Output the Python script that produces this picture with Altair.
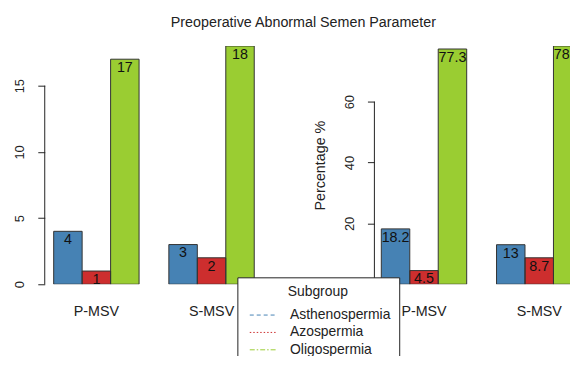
import altair as alt
import pandas as pd

groups = ["P-MSV", "S-MSV"]
subgroups = ["Asthenospermia", "Azospermia", "Oligospermia"]
colors = ["#4682B4", "#CD2E2E", "#9ACD32"]
count_p = [4, 1, 17]
count_s = [3, 2, 18]
pct_p = [18.2, 4.5, 77.3]
pct_s = [13, 8.7, 78.3]
title = "Preoperative Abnormal Semen Parameter"
y_title_right = "Percentage %"
ticks_left = [0, 5, 10, 15]
ticks_right = [0, 20, 40, 60]

FONT = "Liberation Sans"

dash_expr = ("datum.value == 'Asthenospermia' ? [4, 3] : "
             "datum.value == 'Azospermia' ? [1.5, 2] : [5, 2, 1.5, 2]")
stroke_expr = ("datum.value == 'Asthenospermia' ? '#4682B4' : "
               "datum.value == 'Azospermia' ? '#CD2E2E' : '#9ACD32'")


def make_df(vals_p, vals_s):
    rows = []
    for g, vals in zip(groups, [vals_p, vals_s]):
        for s, v in zip(subgroups, vals):
            rows.append({"group": g, "subgroup": s, "value": v,
                         "label": f"{v:g}"})
    return pd.DataFrame(rows)


df_count = make_df(count_p, count_s)
df_pct = make_df(pct_p, pct_s)


def panel(df, ymax, ticks, ytitle, pad_outer, legend=False):
    x = alt.X("group:N", sort=groups,
              scale=alt.Scale(paddingInner=0.2586, paddingOuter=pad_outer),
              axis=alt.Axis(title=None, labelAngle=0, domain=False, ticks=False,
                            labelPadding=20, labelFontSize=14.4, labelColor="#222"))
    xo = alt.XOffset("subgroup:N", sort=subgroups,
                     scale=alt.Scale(paddingInner=0, paddingOuter=0))
    yaxis = alt.Axis(values=ticks, domain=False, grid=False, tickSize=7,
                     tickColor="#222", labelAngle=270, labelAlign="center",
                     labelBaseline="bottom", labelPadding=11, labelFontSize=13,
                     labelColor="#222", title=ytitle if ytitle else None,
                     titleFontSize=14.4, titleFontWeight="normal",
                     titleColor="#222", titlePadding=16)
    y = alt.Y("value:Q", scale=alt.Scale(domain=[0, ymax], nice=False, zero=True),
              axis=yaxis)
    if legend:
        leg = alt.Legend(title="Subgroup", orient="none", legendX=-138, legendY=233,
                         symbolType="stroke", symbolSize=784, symbolStrokeWidth=1,
                         symbolOffset=4,
                         symbolDash=alt.ExprRef(dash_expr),
                         symbolStrokeColor=alt.ExprRef(stroke_expr))
    else:
        leg = None
    color = alt.Color("subgroup:N", sort=subgroups,
                      scale=alt.Scale(domain=subgroups, range=colors), legend=leg)
    base = alt.Chart(df).encode(x=x, xOffset=xo)
    bars = base.mark_bar(clip=True).encode(y=y, color=color)
    outline = base.mark_bar(clip=True, fill="transparent", stroke="#333",
                            strokeWidth=1).encode(y=alt.Y("value:Q"))
    text = base.mark_text(baseline="top", dy=2, fontSize=14.4, color="#111",
                          font=FONT, clip=True).encode(
        y=alt.Y("value:Q"), text="label:N")
    axis_df = pd.DataFrame({"lo": [ticks[0]], "hi": [ticks[-1]]})
    rule = alt.Chart(axis_df).mark_rule(color="#222", strokeWidth=1).encode(
        y=alt.Y("lo:Q"), y2="hi:Q", x=alt.value(0))
    return alt.layer(bars, outline, text, rule)


left = panel(df_count, 18, ticks_left, None, 0.0776).properties(width=220, height=240)
right = panel(df_pct, 78.3, ticks_right, y_title_right, 0.06,
              legend=True).properties(width=216, height=240)

chart = alt.hconcat(left, right, spacing=112, bounds="flush").resolve_scale(
    color="independent", y="independent", x="independent"
).resolve_legend(color="independent").properties(
    title=alt.TitleParams(title, fontSize=14.4, fontWeight="normal", color="#222",
                          anchor="middle", offset=16, font=FONT, dx=2),
    padding={"left": 5, "top": 5, "right": -19, "bottom": -12},
).configure(font=FONT).configure_view(stroke=None).configure_legend(
    fillColor="white", strokeColor="#222", padding=8,
    titleFontSize=14, titleFontWeight="normal", titleColor="#222",
    labelFontSize=14, labelColor="#222", titleAnchor="middle",
    rowPadding=1.5, clipHeight=16, titlePadding=8, labelOffset=12, labelLimit=300,
)

chart.save("out.html", embed_options={"renderer": "svg", "actions": False})
